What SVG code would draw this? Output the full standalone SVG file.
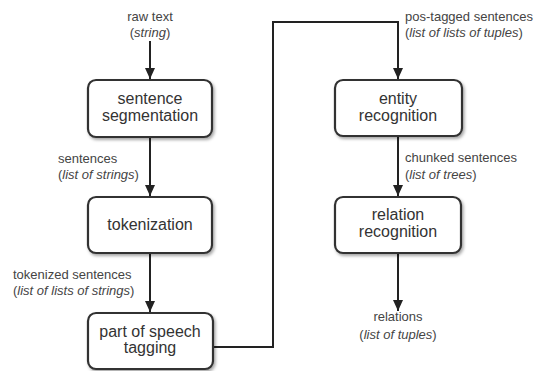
<svg xmlns="http://www.w3.org/2000/svg" width="543" height="371" viewBox="0 0 543 371">
<defs>
<filter id="sh" x="-10%" y="-10%" width="125%" height="130%">
<feDropShadow dx="1.5" dy="2" stdDeviation="1.5" flood-color="#000" flood-opacity="0.35"/>
</filter>
<marker id="ah" markerUnits="userSpaceOnUse" markerWidth="12" markerHeight="12" viewBox="0 0 12 12" refX="11" refY="6" orient="auto">
<path d="M0,1 L11,6 L0,11 Z" fill="#222"/>
</marker>
<style>
.box{fill:#fff;stroke:#333;stroke-width:2.2;filter:url(#sh)}
.bt{font-family:"Liberation Sans",Arial,sans-serif;font-size:16px;fill:#333;text-anchor:middle}
.lb{font-family:"Liberation Sans",Arial,sans-serif;font-size:13px;fill:#444}
.c{text-anchor:middle}
.it{font-style:italic}
.ln{fill:none;stroke:#222;stroke-width:2}
</style>
</defs>
<rect width="543" height="371" fill="#fff"/>
<g id="connectors">
<line class="ln" x1="150" y1="41" x2="150" y2="79" marker-end="url(#ah)"/>
<line class="ln" x1="150" y1="137" x2="150" y2="196" marker-end="url(#ah)"/>
<line class="ln" x1="150" y1="253" x2="150" y2="312" marker-end="url(#ah)"/>
<polyline class="ln" points="213,347 273,347 273,22 398,22 398,79" marker-end="url(#ah)"/>
<line class="ln" x1="398" y1="136" x2="398" y2="196" marker-end="url(#ah)"/>
<line class="ln" x1="398" y1="253" x2="398" y2="311" marker-end="url(#ah)"/>
</g>
<g id="labels">
<text class="lb c" x="150" y="21">raw text</text>
<text class="lb c" x="150" y="37">(<tspan class="it">string</tspan>)</text>
<text class="lb" x="58" y="163">sentences</text>
<text class="lb" x="58" y="179">(<tspan class="it">list of strings</tspan>)</text>
<text class="lb" x="13" y="279">tokenized sentences</text>
<text class="lb" x="13" y="295">(<tspan class="it">list of lists of strings</tspan>)</text>
<text class="lb" x="405" y="21">pos-tagged sentences</text>
<text class="lb" x="405" y="37">(<tspan class="it">list of lists of tuples</tspan>)</text>
<text class="lb" x="405" y="162">chunked sentences</text>
<text class="lb" x="405" y="179">(<tspan class="it">list of trees</tspan>)</text>
<text class="lb c" x="398" y="321">relations</text>
<text class="lb c" x="398" y="339">(<tspan class="it">list of tuples</tspan>)</text>
</g>
<g id="sentence-segmentation">
<rect class="box" x="88" y="80" width="124" height="57" rx="8"/>
<text class="bt" x="150" y="104">sentence</text>
<text class="bt" x="150" y="121">segmentation</text>
</g>
<g id="tokenization">
<rect class="box" x="88" y="197" width="124" height="56" rx="8"/>
<text class="bt" x="150" y="230">tokenization</text>
</g>
<g id="pos-tagging">
<rect class="box" x="88" y="313" width="125" height="56" rx="8"/>
<text class="bt" x="150" y="337">part of speech</text>
<text class="bt" x="150" y="353">tagging</text>
</g>
<g id="entity-recognition">
<rect class="box" x="335" y="80" width="127" height="56" rx="8"/>
<text class="bt" x="398" y="104">entity</text>
<text class="bt" x="398" y="121">recognition</text>
</g>
<g id="relation-recognition">
<rect class="box" x="335" y="197" width="126" height="56" rx="8"/>
<text class="bt" x="398" y="220">relation</text>
<text class="bt" x="398" y="237">recognition</text>
</g>
</svg>
